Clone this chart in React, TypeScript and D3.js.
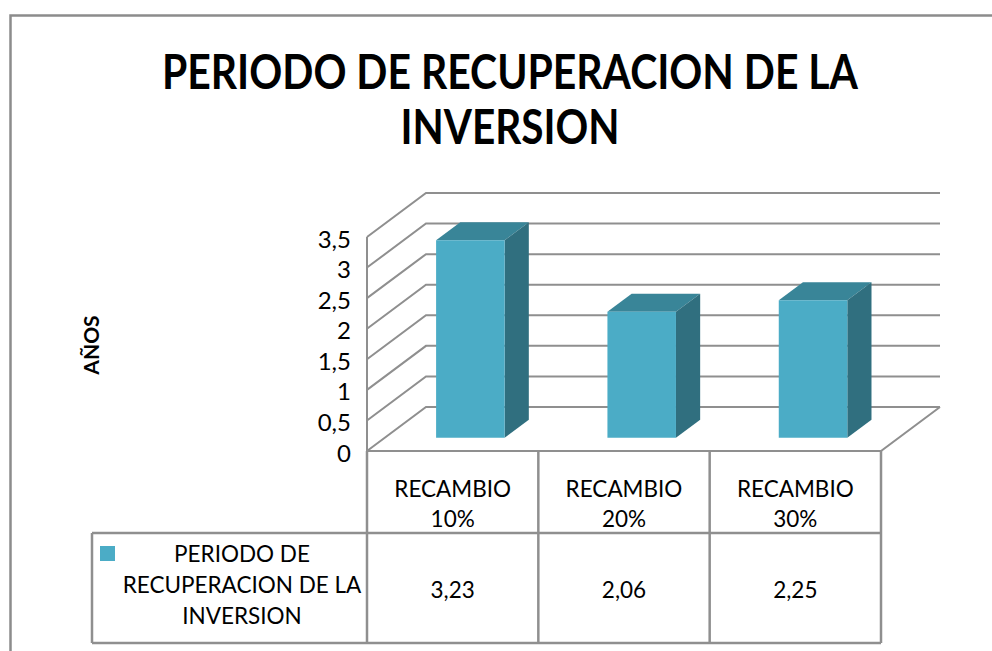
import * as d3 from "d3";

const categories = ["RECAMBIO 10%", "RECAMBIO 20%", "RECAMBIO 30%"];
const values = [3.23, 2.06, 2.25];
const valueLabels = ["3,23", "2,06", "2,25"];
const yTicks = [0, 0.5, 1, 1.5, 2, 2.5, 3, 3.5];
const seriesName = ["PERIODO DE", "RECUPERACION DE LA", "INVERSION"];
const titleLines = ["PERIODO DE RECUPERACION DE LA", "INVERSION"];
const titleWidths = [696, 219];

const W = 992;
const H = 651;
const FONT = "Lato, 'Open Sans', sans-serif";
const GRID = "#8f8f8f";

// floor front-left corner and the depth vector of the 3d box
const originX = 367;
const originY = 451;
const depthX = 59;
const depthY = 44;
const plotWidth = 514;
const zFront = 0.3;
const zBack = 0.71;

const colFront = "#4BACC6";
const colSide = "#306F7F";
const colTop = "#398598";

export default function App() {
  const x = d3
    .scaleBand<string>()
    .domain(categories)
    .range([0, plotWidth])
    .paddingInner(0.6)
    .paddingOuter(0.3);
  const y = d3.scaleLinear().domain([0, 3.5]).range([0, 214]);

  // project (x, value, depth) into screen coordinates
  const P = (px: number, v: number, z: number): [number, number] => [
    originX + px + z * depthX,
    originY - y(v) - z * depthY,
  ];
  const pts = (arr: [number, number][]) => arr.map((p) => p.join(",")).join(" ");

  const step = x.step();
  const colEdges = categories.map((_, i) => originX + i * step).concat([originX + plotWidth]);

  return (
    <svg
      width={W}
      height={H}
      style={{ position: "absolute", left: 0, top: 0, background: "#fff" }}
      fontFamily={FONT}
    >
      {/* outer frame */}
      <path d={`M10.5,${H} V15.5 H${W}`} fill="none" stroke="#8c8c8c" strokeWidth={2.5} />

      {/* title */}
      {titleLines.map((t, i) => (
        <text
          key={t}
          x={510}
          y={71 + i * 55}
          textAnchor="middle"
          dominantBaseline="central"
          fontSize={47}
          fontWeight="bold"
          fill="#000"
          textLength={titleWidths[i]}
          lengthAdjust="spacingAndGlyphs"
        >
          {t}
        </text>
      ))}

      {/* y axis title */}
      <text
        transform="translate(90,345) rotate(-90)"
        textAnchor="middle"
        dominantBaseline="central"
        fontSize={21}
        fontWeight="bold"
      >
        AÑOS
      </text>

      {/* walls and gridlines */}
      <g stroke={GRID} strokeWidth={2} fill="none">
        {yTicks.map((t) => {
          const a = P(0, t, 0);
          const b = P(0, t, 1);
          const c = P(plotWidth, t, 1);
          return <polyline key={t} points={pts([a, b, c])} />;
        })}
        <line x1={originX} y1={P(0, 3.5, 0)[1]} x2={originX} y2={originY} />
        <polyline points={pts([P(0, 0, 0), P(plotWidth, 0, 0), P(plotWidth, 0, 1)])} />
      </g>

      {/* tick labels */}
      {yTicks.map((t) => (
        <text
          key={t}
          x={351}
          y={P(0, t, 0)[1] + 1}
          textAnchor="end"
          dominantBaseline="central"
          fontSize={24}
        >
          {String(t).replace(".", ",")}
        </text>
      ))}

      {/* bars */}
      {categories.map((c, i) => {
        const x0 = x(c) ?? 0;
        const x1 = x0 + x.bandwidth();
        const v = values[i];
        return (
          <g key={c}>
            <polygon
              points={pts([P(x0, v, zFront), P(x0, v, zBack), P(x1, v, zBack), P(x1, v, zFront)])}
              fill={colTop}
            />
            <polygon
              points={pts([P(x1, 0, zFront), P(x1, 0, zBack), P(x1, v, zBack), P(x1, v, zFront)])}
              fill={colSide}
            />
            <polygon
              points={pts([P(x0, 0, zFront), P(x1, 0, zFront), P(x1, v, zFront), P(x0, v, zFront)])}
              fill={colFront}
            />
          </g>
        );
      })}

      {/* data table */}
      <g stroke={GRID} strokeWidth={2.5} fill="none">
        {colEdges.map((cx, i) => (
          <line key={i} x1={cx} y1={originY} x2={cx} y2={643} />
        ))}
        <line x1={92} y1={533} x2={originX + plotWidth} y2={533} />
        <line x1={92} y1={643} x2={originX + plotWidth} y2={643} />
        <line x1={92} y1={533} x2={92} y2={643} />
      </g>
      {categories.map((c, i) => {
        const cx = colEdges[i] + step / 2;
        const parts = c.split(" ");
        return (
          <g key={c} fontSize={22.5} textAnchor="middle">
            <text x={cx} y={488} dominantBaseline="central">
              {parts[0]}
            </text>
            <text x={cx} y={518} dominantBaseline="central">
              {parts[1]}
            </text>
            <text x={cx} y={589} dominantBaseline="central">
              {valueLabels[i]}
            </text>
          </g>
        );
      })}
      <rect x={100} y={546} width={15} height={15} fill={colFront} />
      {seriesName.map((s, i) => (
        <text
          key={s}
          x={242}
          y={553 + i * 31}
          textAnchor="middle"
          dominantBaseline="central"
          fontSize={22.5}
        >
          {s}
        </text>
      ))}
    </svg>
  );
}
